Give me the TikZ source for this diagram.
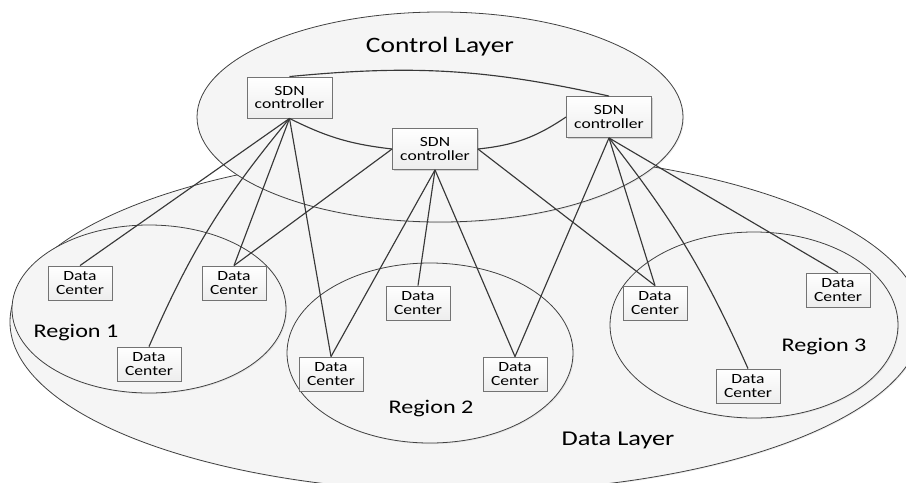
\documentclass[tikz,border=0pt]{standalone}
\usepackage{fontspec}
\setmainfont{Carlito}[FakeStretch=1.25]
\usepackage{tikz}
\usetikzlibrary{shadows}

\begin{document}
\begin{tikzpicture}[x=0.2mm, y=0.2mm,
  area/.style={draw=black!75, line width=0.45pt, fill=gray!8, drop shadow={opacity=0.15, shadow xshift=0.6pt, shadow yshift=-0.6pt}},
  sdn/.style={draw=black!55, line width=0.5pt, top color=white, bottom color=gray!14, minimum width=17mm, minimum height=8.2mm, inner sep=1pt, align=center, font=\fontsize{8}{7.6}\selectfont, drop shadow={opacity=0.3, shadow xshift=0.7pt, shadow yshift=-0.7pt}},
  dc/.style={draw=black!55, line width=0.5pt, top color=white, bottom color=gray!14, minimum width=12.8mm, minimum height=6.8mm, inner sep=1pt, align=center, font=\fontsize{8}{8}\selectfont, drop shadow={opacity=0.3, shadow xshift=0.7pt, shadow yshift=-0.7pt}},
  link/.style={draw=black!78, line width=0.65pt}]
       \useasboundingbox (0,0) rectangle (906,482);
       \clip (0,0) rectangle (906,482);
       \fill[white] (0,0) rectangle (906,482);

       % layers and regions
       \path[area] (466,160) ellipse [x radius=456, y radius=170];
       \path[area] (149,173) ellipse [x radius=137, y radius=84];
       \path[area] (430,129) ellipse [x radius=143, y radius=90];
       \path[area] (754,157) ellipse [x radius=144, y radius=93];
       \path[area] (440,365) ellipse [x radius=243, y radius=105];

       \node[anchor=base, font=\fontsize{12.5}{14}\selectfont] (ctrl) at (440,430) {Control Layer};
       \node[anchor=base, font=\fontsize{12}{14}\selectfont] (data) at (618,37) {Data Layer};
       \node[anchor=base, font=\fontsize{11}{13}\selectfont] (reg1) at (76,145) {Region 1};
       \node[anchor=base, font=\fontsize{11}{13}\selectfont] (reg2) at (431,69) {Region 2};
       \node[anchor=base, font=\fontsize{11}{13}\selectfont] (reg3) at (824,131) {Region 3};

       \node[sdn] (sdn1) at (289.5,384.5) {SDN\\controller};
       \node[sdn] (sdn2) at (435,333) {SDN\\controller};
       \node[sdn] (sdn3) at (609,365) {SDN\\controller};

       \node[dc] (dc1) at (80,199) {Data\\Center};
       \node[dc] (dc2) at (234,199) {Data\\Center};
       \node[dc] (dc3) at (149,118) {Data\\Center};
       \node[dc] (dc4) at (331,108) {Data\\Center};
       \node[dc] (dc5) at (418,179) {Data\\Center};
       \node[dc] (dc6) at (515,108) {Data\\Center};
       \node[dc] (dc7) at (655,179) {Data\\Center};
       \node[dc] (dc8) at (838,192) {Data\\Center};
       \node[dc] (dc9) at (748,96) {Data\\Center};

       % controller links
       \draw[link] (sdn1.north) to[bend left=9] (sdn3.north);
       \draw[link] (sdn1.south) to[bend right=10] (sdn2.west);
       \draw[link] (sdn2.east) to[bend right=14] (sdn3.west);

       % data center links
       \foreach \d in {dc1,dc2,dc4}{ \draw[link] (sdn1.south) -- (\d.north); }
       \draw[link] (sdn1.south) to[bend right=8] (dc3.north);
       \draw[link] (sdn2.west) -- (dc2.north);
       \draw[link] (sdn2.east) -- (dc7.north);
       \foreach \d in {dc4,dc5,dc6}{ \draw[link] (sdn2.south) -- (\d.north); }
       \foreach \d in {dc6,dc7,dc8}{ \draw[link] (sdn3.south) -- (\d.north); }
       \draw[link] (sdn3.south) to[bend left=7] (dc9.north);
     \end{tikzpicture}
\end{document}
